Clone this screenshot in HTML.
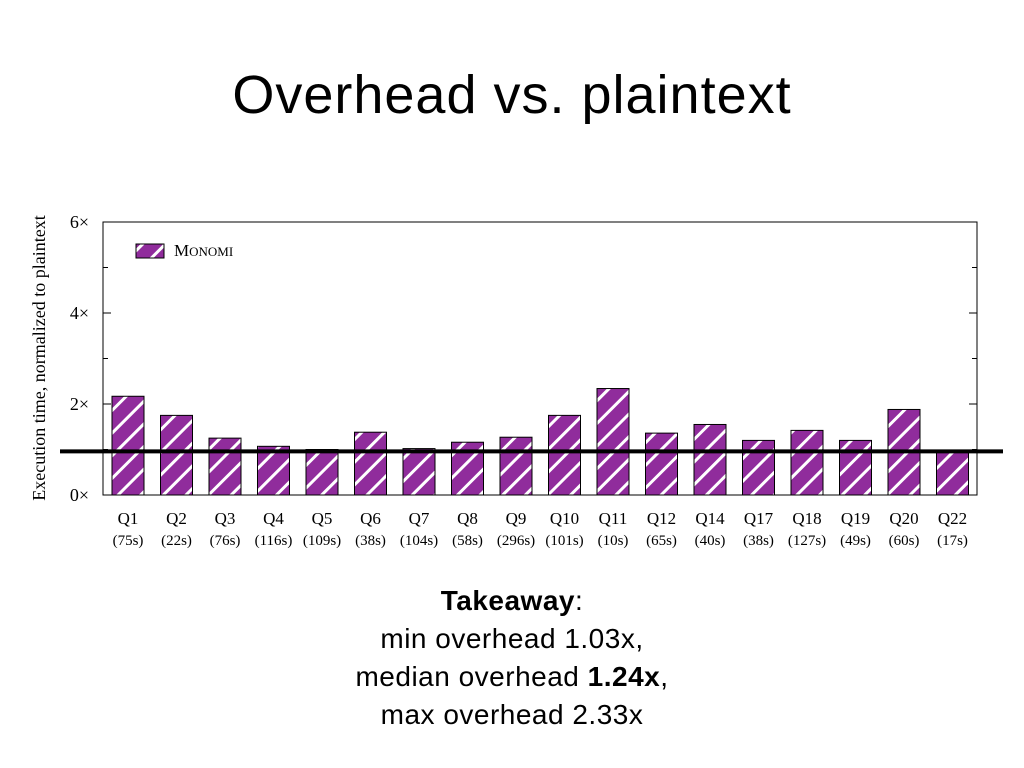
<!DOCTYPE html>
<html><head><meta charset="utf-8"><style>
body{margin:0;width:1024px;height:768px;background:#fff;overflow:hidden;font-family:"Liberation Sans",sans-serif}
#title{position:absolute;left:0;width:1024px;top:64px;text-align:center;font-size:54px;color:#000;letter-spacing:1px}
#take{position:absolute;left:0;width:1024px;top:582px;text-align:center;font-size:28px;line-height:38px;color:#000;letter-spacing:0.5px}
svg{position:absolute;left:0;top:0}
</style></head><body>
<div id="title">Overhead vs. plaintext</div>
<svg id="chart" width="1024" height="768">
<defs><pattern id="hatch" patternUnits="userSpaceOnUse" width="16" height="16" patternTransform="rotate(45)">
<rect width="16" height="16" fill="#902c9c"/><rect x="0" y="0" width="3" height="16" fill="#fff"/></pattern></defs>
</svg>
<div id="take"><b>Takeaway</b>:<br>min overhead 1.03x,<br>median overhead <b>1.24x</b>,<br>max overhead 2.33x</div>
<script>
const categories=["Q1","Q2","Q3","Q4","Q5","Q6","Q7","Q8","Q9","Q10","Q11","Q12","Q14","Q17","Q18","Q19","Q20","Q22"];
const times=["(75s)","(22s)","(76s)","(116s)","(109s)","(38s)","(104s)","(58s)","(296s)","(101s)","(10s)","(65s)","(40s)","(38s)","(127s)","(49s)","(60s)","(17s)"];
const values=[2.17,1.75,1.25,1.07,1.0,1.38,1.02,1.16,1.27,1.75,2.34,1.36,1.55,1.2,1.42,1.2,1.88,0.97];
const yTicks=[0,2,4,6];
const minorTicks=[1,3,5];
const baseline=[0.96];
const NS="http://www.w3.org/2000/svg",svg=document.getElementById('chart');
const L=103,R=977,T=222,B=495;
const y=v=>B-(v/6)*(B-T);
const xc=i=>128+i*48.5;
function mk(t,a,p){const e=document.createElementNS(NS,t);for(const k in a)e.setAttribute(k,a[k]);(p||svg).appendChild(e);return e;}
const frame=mk('rect',{x:L,y:T,width:R-L,height:B-T,fill:'none',stroke:'#000','stroke-width':1});


yTicks.forEach(v=>{
 mk('line',{x1:L,x2:L+8,y1:y(v),y2:y(v),stroke:'#000'});mk('line',{x1:R-8,x2:R,y1:y(v),y2:y(v),stroke:'#000'});
 const t=mk('text',{x:L-14,y:y(v)+6,'text-anchor':'end','font-family':'Liberation Serif','font-size':18});t.textContent=v+'×';
 
 
});
minorTicks.forEach(v=>{mk('line',{x1:L,x2:L+5,y1:y(v),y2:y(v),stroke:'#000'});mk('line',{x1:R-5,x2:R,y1:y(v),y2:y(v),stroke:'#000'});});
values.forEach((v,i)=>{
 const r=mk('rect',{x:xc(i)-16,y:y(v),width:32,height:B-y(v),fill:'url(#hatch)',stroke:'#000','stroke-width':1});
 
 
 const t=mk('text',{x:xc(i),y:524,'text-anchor':'middle','font-family':'Liberation Serif','font-size':17});t.textContent=categories[i];
 
 
 const s=mk('text',{x:xc(i),y:545,'text-anchor':'middle','font-family':'Liberation Serif','font-size':15});s.textContent=times[i];
 
 
});
const bl=mk('line',{x1:60,x2:1003,y1:y(baseline[0]),y2:y(baseline[0]),stroke:'#000','stroke-width':4});


const yt=mk('text',{transform:'translate(45,358) rotate(-90)','text-anchor':'middle','font-family':'Liberation Serif','font-size':18});
yt.textContent='Execution time, normalized to plaintext';


const lg=mk('rect',{x:136,y:244,width:28,height:14,fill:'url(#hatch)',stroke:'#000'});


const lt=mk('text',{x:174,y:256,'font-family':'Liberation Serif','font-size':17});
lt.innerHTML='M<tspan font-size="13">ONOMI</tspan>';


</script>
</body></html>
